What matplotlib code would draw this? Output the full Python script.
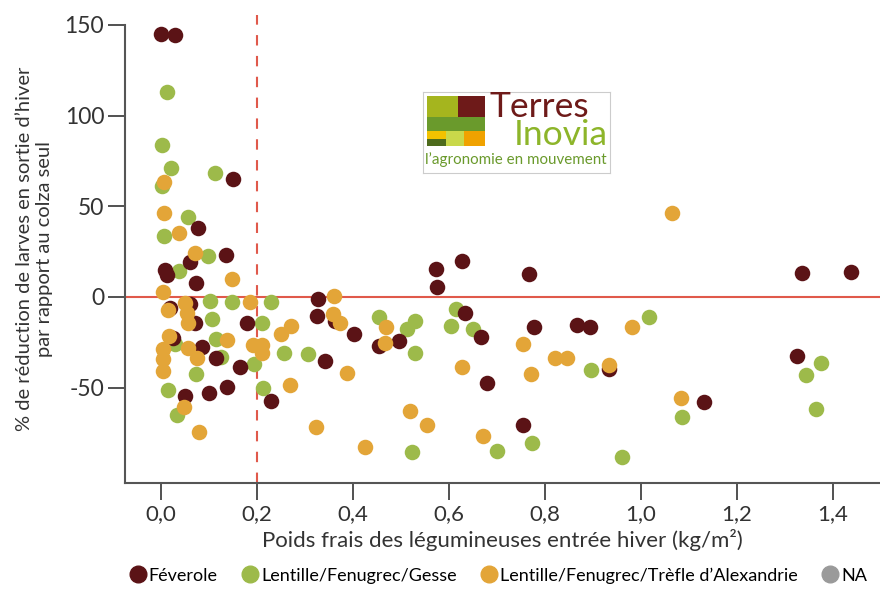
import matplotlib.pyplot as plt
from matplotlib.patches import Rectangle
from matplotlib.lines import Line2D

# Féverole
fev_x = [0.0, 0.029, 0.15, 0.077, 0.135, 0.06, 0.008, 0.0125, 0.073, 0.019, 0.06,
         0.071, 0.025, 0.085, 0.115, 0.165, 0.179, 0.05, 0.1, 0.1375, 0.229,
         0.573, 0.575, 0.627, 0.767, 0.327, 0.325, 0.3625, 0.402, 0.454, 0.496,
         0.342, 0.633, 0.667, 0.679, 0.754, 0.777, 0.867, 0.894, 0.933,
         1.335, 1.4375, 1.325, 1.131]
fev_y = [145.1, 144.5, 65.1, 38.1, 23.2, 19.3, 14.9, 12.1, 7.7, -6.1, -3.9,
         -14.3, -22.6, -27.6, -33.6, -38.6, -14.3, -54.6, -53.0, -49.6, -57.4,
         15.4, 5.5, 19.9, 12.7, -1.1, -10.5, -13.2, -20.4, -27.0, -24.3,
         -35.3, -8.8, -22.1, -47.4, -70.6, -16.5, -15.4, -16.5, -39.7,
         13.2, 13.8, -32.5, -57.9]

# Lentille/Fenugrec/Gesse
lfg_x = [0.0125, 0.002, 0.021, 0.1125, 0.002, 0.056, 0.006, 0.098, 0.0375,
         0.102, 0.148, 0.229, 0.106, 0.21, 0.115, 0.029, 0.125, 0.256, 0.194,
         0.073, 0.015, 0.2125, 0.033, 0.306, 0.454, 0.5125, 0.529, 0.529, 0.523,
         0.615, 0.604, 0.65, 0.7, 0.773, 0.896, 1.017, 1.085, 0.96,
         1.375, 1.344, 1.365]
lfg_y = [113.1, 83.8, 71.2, 68.4, 61.2, 44.1, 33.6, 22.6, 14.3,
         -2.2, -2.8, -2.8, -12.1, -14.3, -23.2, -25.9, -33.1, -30.9, -37.0,
         -42.5, -51.3, -50.2, -65.1, -31.4, -11.0, -17.6, -13.2, -30.9, -85.5,
         -6.6, -16.0, -17.6, -84.9, -80.5, -40.3, -11.0, -66.2, -88.3,
         -36.4, -43.0, -61.8]

# Lentille/Fenugrec/Trèfle d'Alexandrie
lft_x = [0.006, 0.006, 0.0375, 0.071, 0.148, 0.004, 0.05, 0.015, 0.054, 0.056,
         0.185, 0.271, 0.25, 0.017, 0.1375, 0.004, 0.056, 0.004, 0.075, 0.192,
         0.21, 0.21, 0.004, 0.269, 0.048, 0.079, 0.36, 0.358, 0.373, 0.469,
         0.467, 0.3875, 0.323, 0.425, 0.519, 0.554, 0.627, 0.671, 0.754, 0.771,
         0.821, 0.846, 0.933, 1.065, 0.981, 1.083]
lft_y = [63.4, 46.3, 35.3, 24.3, 9.9, 2.8, -3.3, -7.2, -8.8, -14.3,
         -2.8, -16.0, -20.4, -21.5, -23.7, -28.7, -28.1, -34.2, -33.6, -26.5,
         -26.5, -30.9, -40.8, -48.5, -60.7, -74.5, 0.6, -9.4, -14.3, -16.5,
         -25.4, -41.9, -71.7, -82.7, -62.9, -70.6, -38.6, -76.7, -25.9, -42.5,
         -33.6, -33.6, -37.5, 46.3, -16.5, -55.7]

C_FEV = '#5b1316'
C_LFG = '#9dba4a'
C_LFT = '#e3a538'
C_NA = '#9a9a9a'
C_RED = '#e0594b'
FONT = 'Lato'

fig = plt.figure(figsize=(8.8, 5.97), dpi=100)
ax = fig.add_axes([125 / 880, 1 - 483 / 597, 755 / 880, 468 / 597])

ax.scatter(lfg_x, lfg_y, s=125, color=C_LFG, linewidths=0, zorder=3)
ax.scatter(fev_x, fev_y, s=125, color=C_FEV, linewidths=0, zorder=3)
ax.scatter(lft_x, lft_y, s=125, color=C_LFT, linewidths=0, zorder=3)

ax.axhline(0, color=C_RED, lw=1.5, zorder=2)
ax.axvline(0.2, color=C_RED, lw=1.5, ls=(0, (5, 5)), zorder=2)

ax.set_xlim(-0.075, 1.498)
ax.set_ylim(-102.6, 155.5)

xt = [0.0, 0.2, 0.4, 0.6, 0.8, 1.0, 1.2, 1.4]
ax.set_xticks(xt)
ax.set_xticklabels([f"{v:.1f}".replace('.', ',') for v in xt], family=FONT, fontsize=16, color='#333')
yt = [-50, 0, 50, 100, 150]
ax.set_yticks(yt)
ax.set_yticklabels([str(v) for v in yt], family=FONT, fontsize=16.5, color='#333')
ax.tick_params(direction='out', length=12, width=1.2, color='#333', pad=3)

for side in ['top', 'right']:
    ax.spines[side].set_visible(False)
for side in ['left', 'bottom']:
    ax.spines[side].set_color('#555')
    ax.spines[side].set_linewidth(1.5)
ax.spines['left'].set_bounds(-102.6, 150)

ax.set_xlabel('Poids frais des légumineuses entrée hiver (kg/m²)', family=FONT, fontsize=16,
              color='#333', labelpad=4)
ax.set_ylabel('% de réduction de larves en sortie d’hiver\npar rapport au colza seul',
              family=FONT, fontsize=14.5, color='#333', labelpad=8, linespacing=1.25)

# legend
handles = [Line2D([], [], marker='o', ls='', ms=12, color=c)
           for c in [C_FEV, C_LFG, C_LFT, C_NA]]
labels = ['Féverole', 'Lentille/Fenugrec/Gesse', 'Lentille/Fenugrec/Trèfle d’Alexandrie', 'NA']
fig.legend(handles, labels, loc='lower left', bbox_to_anchor=(0.128, -0.005), ncol=4,
           frameon=False, handletextpad=0.1, columnspacing=1.3, handlelength=1.0,
           prop={'family': FONT, 'size': 13})

# logo
lg = fig.add_axes([423 / 880, 1 - 173 / 597, 187 / 880, 81 / 597])
lg.set_xlim(0, 187)
lg.set_ylim(81, 0)
lg.set_xticks([])
lg.set_yticks([])
for s in lg.spines.values():
    s.set_color('#cccccc')
    s.set_linewidth(0.8)
blocks = [
    (4, 4, 31, 21, '#a5b51e'),
    (35, 4, 27, 21, '#6e1a19'),
    (4, 25, 58, 14, '#6a9a2c'),
    (4, 39, 19, 8, '#f2c200'),
    (4, 47, 19, 7, '#4d6b1c'),
    (23, 39, 18, 15, '#c9d84a'),
    (41, 39, 21, 15, '#f0a200'),
]
for bx, by, bw, bh, bc in blocks:
    lg.add_patch(Rectangle((bx, by), bw, bh, color=bc, lw=0))
lg.text(66, 15, 'Terres', color='#6e1a19', fontsize=25.5, family=FONT, va='center', ha='left')
lg.text(185, 43, 'Inovia', color='#8db52a', fontsize=25.5, family=FONT, va='center', ha='right')
lg.text(93, 68, 'l’agronomie en mouvement', color='#6a9a2c', fontsize=10.9, family=FONT,
        va='center', ha='center')

fig.savefig('out.png', dpi=100)
